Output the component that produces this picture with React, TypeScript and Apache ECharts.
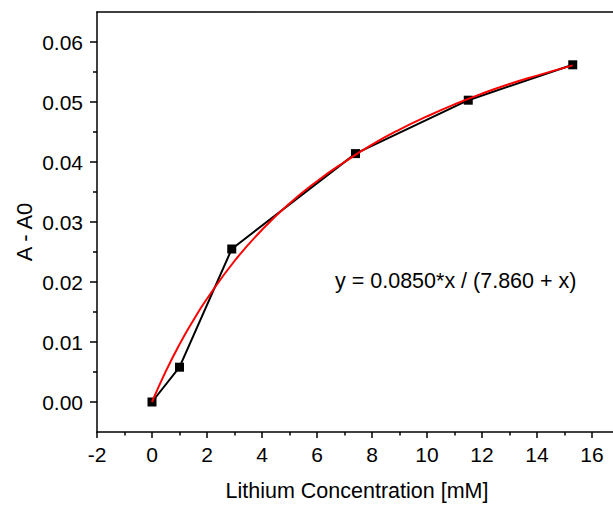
import React, { useEffect, useRef } from 'react';
import * as echarts from 'echarts';

// Measured data points
const concentration = [0, 1, 2.9, 7.4, 11.5, 15.3];
const absorbanceDelta = [0, 0.0058, 0.0255, 0.0414, 0.0503, 0.0562];

// Fit curve
const fitConcentration = [0, 0.5, 1, 1.5, 2, 3, 4, 5, 6, 7, 8, 9, 10, 11, 12, 13, 14, 15.3];
const fitAbsorbance = [0, 0.0051, 0.0096, 0.0136, 0.0172, 0.0235, 0.0287, 0.0331, 0.0368, 0.04, 0.0429, 0.0454, 0.0476, 0.0496, 0.0514, 0.053, 0.0544, 0.0561];

const equationLabel = 'y = 0.0850*x / (7.860 + x)';
const xTitle = 'Lithium Concentration [mM]';
const yTitle = 'A - A0';

export default function App() {
  const ref = useRef<HTMLDivElement>(null);
  useEffect(() => {
    const chart = echarts.init(ref.current!, null, { renderer: 'svg' });
    const font = '"Liberation Sans", Arial, sans-serif';
    const black = '#000000';
    const axisLine = { show: true, onZero: false, lineStyle: { color: black, width: 1.5 } };
    chart.setOption({
      animation: false,
      backgroundColor: '#ffffff',
      grid: [
        { left: 97, right: 0, top: 12, bottom: 74, containLabel: false, outerBoundsMode: 'none' },
        { left: 97, right: 0, top: 42, bottom: 104, containLabel: false, outerBoundsMode: 'none' },
      ],
      xAxis: [
        {
          gridIndex: 0, type: 'value', position: 'bottom', min: -2, max: 18, interval: 2,
          axisLine,
          axisTick: { show: true, inside: false, length: 6, lineStyle: { color: black, width: 1.5 } },
          minorTick: { show: true, splitNumber: 2, length: 3.5, lineStyle: { color: black, width: 1.5 } },
          axisLabel: { color: black, fontSize: 21, fontFamily: font, margin: 12, showMaxLabel: false },
          splitLine: { show: false }, minorSplitLine: { show: false },
        },
        {
          gridIndex: 0, type: 'value', position: 'top', min: -2, max: 18,
          axisLine, axisTick: { show: false }, axisLabel: { show: false }, splitLine: { show: false },
        },
        { gridIndex: 1, type: 'value', min: -2, max: 18, show: false },
      ],
      yAxis: [
        {
          gridIndex: 0, type: 'value', min: -0.005, max: 0.065,
          axisLine, axisTick: { show: false }, axisLabel: { show: false }, splitLine: { show: false },
        },
        {
          gridIndex: 1, type: 'value', min: 0, max: 0.06, interval: 0.01, position: 'left',
          axisLine: { show: false, onZero: false },
          axisTick: { show: true, inside: false, length: 7, lineStyle: { color: black, width: 1.5 } },
          minorTick: { show: true, splitNumber: 2, length: 4, lineStyle: { color: black, width: 1.5 } },
          axisLabel: { color: black, fontSize: 21, fontFamily: font, margin: 14, formatter: (v: number) => v.toFixed(2) },
          splitLine: { show: false }, minorSplitLine: { show: false },
        },
      ],
      series: [
        {
          type: 'line', xAxisIndex: 0, yAxisIndex: 0,
          data: concentration.map((x, i) => [x, absorbanceDelta[i]]),
          symbol: 'rect', symbolSize: 9, showSymbol: true,
          lineStyle: { color: black, width: 2 }, itemStyle: { color: black }, z: 2,
        },
        {
          type: 'line', xAxisIndex: 0, yAxisIndex: 0,
          data: fitConcentration.map((x, i) => [x, fitAbsorbance[i]]),
          smooth: true, showSymbol: false, symbol: 'none',
          lineStyle: { color: '#ff0000', width: 2 }, z: 3,
        },
      ],
      graphic: [
        {
          type: 'text', x: 357, y: 491,
          style: { text: xTitle, fill: black, font: `21.5px ${font}`, textAlign: 'center', textVerticalAlign: 'middle', align: 'center', verticalAlign: 'middle' },
        },
        {
          type: 'text', x: 24, y: 232, rotation: Math.PI / 2,
          style: { text: yTitle, fill: black, font: `22px ${font}`, textAlign: 'center', textVerticalAlign: 'middle', align: 'center', verticalAlign: 'middle' },
        },
        {
          type: 'text', x: 335, y: 281,
          style: { text: equationLabel, fill: black, font: `21.5px ${font}`, textAlign: 'left', textVerticalAlign: 'middle', align: 'left', verticalAlign: 'middle' },
        },
      ],
    });
    return () => chart.dispose();
  }, []);
  return (
    <div style={{ position: 'fixed', left: 0, top: 0, width: 613, height: 506, overflow: 'hidden', background: '#fff' }}>
      <div ref={ref} style={{ width: 647, height: 506 }} />
    </div>
  );
}
